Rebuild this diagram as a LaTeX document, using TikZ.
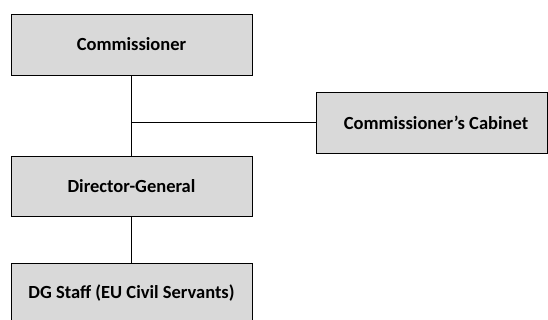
\documentclass[tikz,border=0pt]{standalone}
\usepackage{fontspec}
\setmainfont{Carlito}
\definecolor{boxgrey}{HTML}{D9D9D9}
\begin{document}
\begin{tikzpicture}[x=1pt,y=-1pt,
        orgbox/.style={draw=black,line width=0.9pt,fill=boxgrey,
            minimum width=241pt,minimum height=61pt,inner sep=0pt,
            font=\fontsize{18.5}{22}\selectfont\bfseries},
        link/.style={draw=black,line width=0.9pt}]
        \useasboundingbox (0,0) rectangle (548,320);
        % Draw boxes.
        \node[orgbox] (comm) at (131.5,44.5) {Commissioner};
        \node[orgbox,minimum width=231pt] (cab) at (431.5,122.5) {\hspace*{9pt}Commissioner’s Cabinet};
        \node[orgbox,minimum height=60pt] (dg) at (131.5,186) {Director-General};
        \node[orgbox] (staff) at (131.5,293.5) {DG Staff (EU Civil Servants)};
        % Draw links.
        \coordinate (split) at (comm.south |- cab.west);
        \draw[link] (comm.south) -- (dg.north);
        \draw[link] (split) -- (cab.west);
        \draw[link] (dg.south) -- (staff.north);
    \end{tikzpicture}
\end{document}
